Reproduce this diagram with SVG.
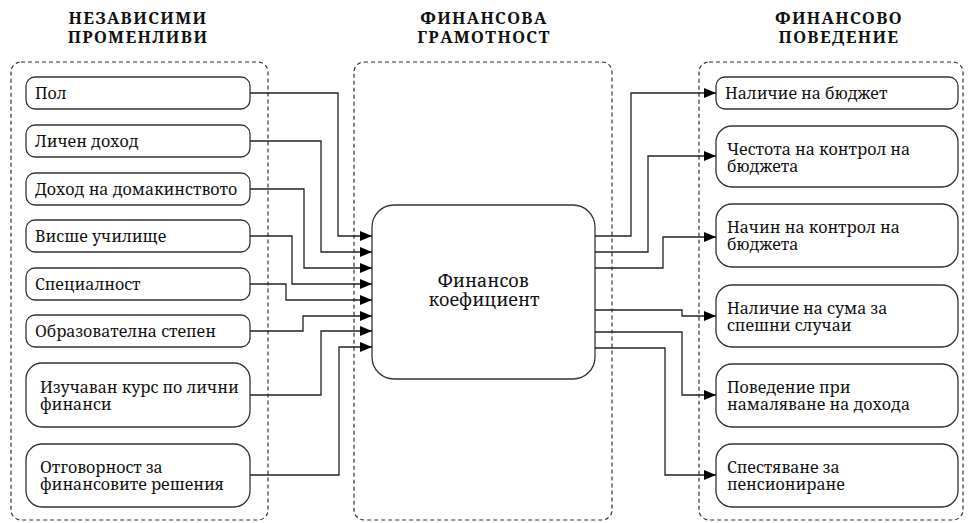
<svg xmlns="http://www.w3.org/2000/svg" width="968" height="523" viewBox="0 0 968 523">
<defs>
<style>
.cont{fill:none;stroke:#333;stroke-width:1.2;stroke-dasharray:4 3}
.box{fill:#fff;stroke:#333;stroke-width:1.3}
.t{font-family:"Noto Serif","Noto Serif CJK SC","DejaVu Serif",serif;font-size:16px;fill:#111}
.h{font-family:"Noto Serif","Noto Serif CJK SC","DejaVu Serif",serif;font-size:16.5px;font-weight:bold;letter-spacing:1.3px;fill:#111;text-anchor:middle}
.c{font-family:"Noto Serif","Noto Serif CJK SC","DejaVu Serif",serif;font-size:18px;fill:#111;text-anchor:middle}
.ln{fill:none;stroke:#222;stroke-width:1.3}
</style>
<marker id="ar" markerWidth="12" markerHeight="10" refX="12" refY="5" orient="auto" markerUnits="userSpaceOnUse">
<path d="M0,0 L12,5 L0,10 Z" fill="#000"/>
</marker>
</defs>
<rect width="968" height="523" fill="#fff"/>

<g id="titles">
<text class="h" x="138" y="24">НЕЗАВИСИМИ</text>
<text class="h" x="138" y="43">ПРОМЕНЛИВИ</text>
<text class="h" x="484" y="24">ФИНАНСОВА</text>
<text class="h" x="484" y="43">ГРАМОТНОСТ</text>
<text class="h" x="839" y="24">ФИНАНСОВО</text>
<text class="h" x="839" y="43">ПОВЕДЕНИЕ</text>
</g>

<g id="containers">
<rect class="cont" x="11" y="62" width="257" height="458" rx="10"/>
<rect class="cont" x="354" y="62" width="258" height="458" rx="10"/>
<rect class="cont" x="699" y="62" width="264" height="458" rx="10"/>
</g>

<g id="connectors">
<polyline class="ln" marker-end="url(#ar)" points="250,93 338,93 338,236 372,236"/>
<polyline class="ln" marker-end="url(#ar)" points="250,141 321,141 321,252 372,252"/>
<polyline class="ln" marker-end="url(#ar)" points="250,189 304,189 304,268 372,268"/>
<polyline class="ln" marker-end="url(#ar)" points="250,236 292,236 292,284 372,284"/>
<polyline class="ln" marker-end="url(#ar)" points="250,284 286,284 286,300 372,300"/>
<polyline class="ln" marker-end="url(#ar)" points="250,331 303,331 303,316 372,316"/>
<polyline class="ln" marker-end="url(#ar)" points="250,395 321,395 321,331 372,331"/>
<polyline class="ln" marker-end="url(#ar)" points="250,475 339,475 339,347 372,347"/>
<polyline class="ln" marker-end="url(#ar)" points="595,236 631,236 631,93 716,93"/>
<polyline class="ln" marker-end="url(#ar)" points="595,252 648,252 648,156 716,156"/>
<polyline class="ln" marker-end="url(#ar)" points="595,268 663,268 663,237 716,237"/>
<polyline class="ln" marker-end="url(#ar)" points="595,310 682,310 682,316 716,316"/>
<polyline class="ln" marker-end="url(#ar)" points="595,332 682,332 682,395 716,395"/>
<polyline class="ln" marker-end="url(#ar)" points="595,348 665,348 665,475 716,475"/>
</g>

<g id="n-pol"><rect class="box" x="26" y="77" width="224" height="32" rx="9"/><text class="t" x="35" y="99">Пол</text></g>
<g id="n-lichen"><rect class="box" x="26" y="125" width="224" height="32" rx="9"/><text class="t" x="35" y="147">Личен доход</text></g>
<g id="n-domak"><rect class="box" x="26" y="173" width="224" height="32" rx="9"/><text class="t" x="35" y="195">Доход на домакинството</text></g>
<g id="n-vishe"><rect class="box" x="26" y="220" width="224" height="32" rx="9"/><text class="t" x="35" y="242">Висше училище</text></g>
<g id="n-spec"><rect class="box" x="26" y="268" width="224" height="32" rx="9"/><text class="t" x="35" y="290">Специалност</text></g>
<g id="n-obraz"><rect class="box" x="26" y="315" width="224" height="32" rx="9"/><text class="t" x="35" y="337">Образователна степен</text></g>
<g id="n-kurs"><rect class="box" x="26" y="363" width="224" height="64" rx="16"/><text class="t" x="40" y="393">Изучаван курс по лични</text><text class="t" x="40" y="410">финанси</text></g>
<g id="n-otgov"><rect class="box" x="26" y="444" width="224" height="63" rx="16"/><text class="t" x="40" y="473">Отговорност за</text><text class="t" x="40" y="490">финансовите решения</text></g>

<g id="n-center"><rect class="box" x="372" y="205" width="223" height="174" rx="22"/><text class="c" x="483" y="287">Финансов</text><text class="c" x="484" y="306">коефициент</text></g>

<g id="n-budjet"><rect class="box" x="716" y="77" width="242" height="32" rx="9"/><text class="t" x="725" y="99">Наличие на бюджет</text></g>
<g id="n-chestota"><rect class="box" x="716" y="126" width="242" height="61" rx="16"/><text class="t" x="727" y="155">Честота на контрол на</text><text class="t" x="727" y="172">бюджета</text></g>
<g id="n-nachin"><rect class="box" x="716" y="204" width="242" height="63" rx="16"/><text class="t" x="727" y="233">Начин на контрол на</text><text class="t" x="727" y="250">бюджета</text></g>
<g id="n-suma"><rect class="box" x="716" y="285" width="242" height="62" rx="16"/><text class="t" x="727" y="314">Наличие на сума за</text><text class="t" x="727" y="331">спешни случаи</text></g>
<g id="n-povedenie"><rect class="box" x="716" y="364" width="242" height="63" rx="16"/><text class="t" x="727" y="393">Поведение при</text><text class="t" x="727" y="410">намаляване на дохода</text></g>
<g id="n-spest"><rect class="box" x="716" y="444" width="242" height="63" rx="16"/><text class="t" x="727" y="473">Спестяване за</text><text class="t" x="727" y="490">пенсиониране</text></g>
</svg>
